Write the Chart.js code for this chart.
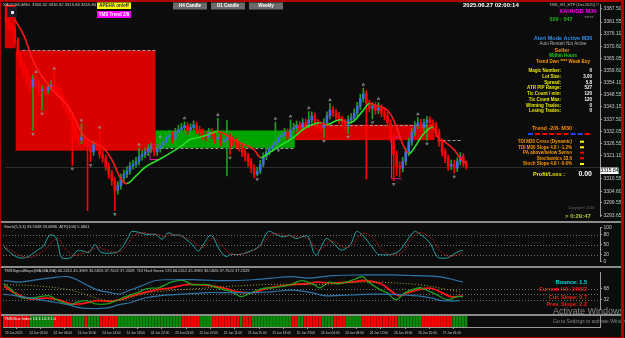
<!DOCTYPE html>
<html>
<head>
<meta charset="utf-8">
<script src="https://cdn.jsdelivr.net/npm/chart.js@4.4.1/dist/chart.umd.min.js"></script>
<style>
  html, body { margin: 0; padding: 0; }
  body { width: 625px; height: 338px; background: #0c0c0c; position: relative; overflow: hidden; }
  canvas { position: absolute; left: 0; }
  .sep { position: absolute; left: 0; width: 622px; height: 2px; background: #8c8c8c; }
  #frame { position: absolute; left: 0; top: 0; width: 620px; height: 335px; border: solid #b00000; border-width: 2px 3px 1px 1px; pointer-events: none; }
  .wm { position: absolute; color: rgba(150,150,150,0.9); font-family: "Liberation Sans", Arial, sans-serif; white-space: nowrap; }
</style>
</head>
<body>
<canvas id="main" width="625" height="221" style="top:0"></canvas>
<div class="sep" style="top:221px"></div>
<canvas id="stoch" width="625" height="43" style="top:223px"></canvas>
<div class="sep" style="top:266px"></div>
<canvas id="tdi" width="625" height="46" style="top:268px"></canvas>
<div class="sep" style="top:314px"></div>
<canvas id="hist" width="625" height="21" style="top:316px"></canvas>
<div class="wm" style="left:553px;top:306px;font-size:9px">Activate Windows</div>
<div class="wm" style="left:553px;top:318px;font-size:5px">Go to Settings to activate Windows.</div>
<div id="frame"></div>
<script>
// ---- price data (XAUUSD M30) ----
const firstOpen = 3384.0;
const closes = [
  3381.9, 3379.7, 3378.4, 3373.2, 3366.6, 3362.2, 3359.1, 3355.6, 3352.1, 3355.6,
  3353.4, 3350.4, 3351.2, 3350.4, 3352.1, 3353.0, 3351.2, 3350.4, 3347.7, 3344.7,
  3341.6, 3339.0, 3333.7, 3329.3, 3328.0, 3329.3, 3327.1, 3324.9, 3322.7, 3325.8,
  3324.9, 3321.4, 3319.7, 3316.2, 3312.6, 3309.6, 3305.2, 3307.4, 3310.9, 3312.6,
  3314.0, 3316.2, 3317.0, 3318.3, 3320.5, 3321.4, 3322.7, 3324.1, 3324.9, 3322.7,
  3324.1, 3325.8, 3327.1, 3329.3, 3330.2, 3328.4, 3331.5, 3332.8, 3333.7, 3334.6,
  3332.4, 3333.7, 3335.0, 3332.8, 3331.5, 3330.2, 3329.3, 3331.5, 3330.2, 3328.4,
  3329.3, 3327.1, 3328.0, 3329.3, 3328.0, 3327.1, 3325.8, 3324.9, 3322.7, 3320.5,
  3318.3, 3315.3, 3312.6, 3314.0, 3317.0, 3320.5, 3322.7, 3324.1, 3325.8, 3327.1,
  3329.3, 3330.2, 3331.5, 3329.3, 3332.8, 3333.7, 3334.6, 3333.7, 3335.9, 3335.0,
  3337.2, 3339.0, 3335.9, 3334.6, 3333.7, 3335.9, 3339.0, 3341.6, 3340.3, 3339.0,
  3337.2, 3335.9, 3334.6, 3337.2, 3338.1, 3340.3, 3343.3, 3346.9, 3349.0, 3344.7,
  3342.5, 3343.3, 3341.6, 3342.5, 3340.3, 3339.0, 3335.9, 3329.3, 3321.4, 3316.2,
  3315.3, 3318.3, 3322.7, 3327.1, 3331.5, 3334.6, 3335.9, 3333.7, 3335.9, 3337.2,
  3335.9, 3334.6, 3331.5, 3327.1, 3322.7, 3319.7, 3316.2, 3317.0, 3315.3, 3318.3,
  3320.5, 3317.5, 3315.8
];
const highs = [
  3387.0, 3383.0, 3381.0, 3379.5, 3374.5, 3368.0, 3363.5, 3360.8, 3357.0, 3357.5,
  3357.2, 3354.8, 3352.8, 3352.6, 3353.8, 3354.9, 3359.0, 3352.9, 3351.8, 3349.0,
  3346.2, 3343.0, 3340.2, 3335.2, 3331.0, 3335.5, 3330.8, 3328.6, 3326.4, 3327.3,
  3327.4, 3332.2, 3323.0, 3321.2, 3317.8, 3314.2, 3311.0, 3309.2, 3312.6, 3314.4,
  3316.0, 3318.0, 3319.0, 3320.2, 3324.5, 3323.2, 3324.6, 3326.0, 3326.8, 3326.5,
  3325.9, 3328.0, 3329.0, 3331.2, 3332.2, 3331.8, 3333.4, 3334.8, 3335.6, 3336.3,
  3336.0, 3335.4, 3336.8, 3336.2, 3334.4, 3333.0, 3332.0, 3333.4, 3333.2, 3331.8,
  3338.0, 3330.9, 3329.8, 3337.0, 3331.0, 3329.6, 3328.7, 3327.5, 3326.3, 3324.2,
  3322.0, 3319.8, 3316.9, 3315.8, 3318.8, 3322.2, 3324.5, 3326.0, 3327.6, 3336.2,
  3331.0, 3332.0, 3333.4, 3333.0, 3337.2, 3335.6, 3336.6, 3336.4, 3337.8, 3337.6,
  3341.0, 3340.8, 3340.4, 3337.4, 3336.2, 3337.8, 3340.9, 3344.6, 3343.2, 3342.0,
  3340.6, 3338.8, 3337.4, 3339.0, 3340.0, 3342.2, 3345.2, 3348.8, 3351.6, 3350.4,
  3346.2, 3345.0, 3345.0, 3345.2, 3344.0, 3342.0, 3340.6, 3337.2, 3330.8, 3323.0,
  3318.2, 3320.2, 3324.4, 3328.9, 3333.3, 3336.4, 3338.2, 3337.4, 3337.6, 3338.8,
  3338.6, 3337.2, 3336.0, 3333.0, 3328.6, 3324.2, 3321.2, 3319.0, 3318.8, 3320.0,
  3322.2, 3321.8, 3318.6
];
const lows = [
  3380.5, 3378.0, 3376.5, 3371.5, 3364.8, 3360.5, 3357.0, 3353.5, 3349.8, 3332.4,
  3351.0, 3348.6, 3341.5, 3348.9, 3349.2, 3350.8, 3349.8, 3348.5, 3346.0, 3343.0,
  3339.8, 3337.3, 3316.5, 3327.5, 3326.2, 3326.4, 3325.6, 3296.0, 3318.2, 3321.1,
  3323.2, 3319.8, 3318.0, 3314.4, 3310.8, 3307.6, 3296.0, 3303.5, 3305.8, 3309.2,
  3311.0, 3312.4, 3314.8, 3315.6, 3316.8, 3318.9, 3320.0, 3321.0, 3322.4, 3320.8,
  3321.1, 3322.6, 3324.3, 3325.8, 3327.8, 3326.7, 3327.0, 3330.0, 3331.2, 3332.1,
  3330.6, 3330.8, 3332.2, 3331.0, 3329.8, 3328.4, 3327.6, 3327.9, 3328.6, 3326.6,
  3327.0, 3325.5, 3325.8, 3311.8, 3321.5, 3325.4, 3324.0, 3323.0, 3320.6, 3318.6,
  3316.2, 3313.2, 3311.0, 3311.8, 3312.8, 3315.8, 3319.2, 3321.2, 3322.8, 3324.4,
  3325.0, 3327.8, 3328.8, 3327.6, 3327.9, 3331.0, 3332.0, 3332.0, 3332.4, 3333.4,
  3333.6, 3335.6, 3334.2, 3332.8, 3331.8, 3329.3, 3334.6, 3337.6, 3338.6, 3337.2,
  3335.4, 3334.2, 3332.8, 3331.1, 3335.6, 3336.6, 3338.8, 3341.8, 3345.2, 3310.4,
  3340.8, 3337.6, 3339.8, 3340.0, 3338.6, 3337.2, 3334.0, 3327.2, 3309.6, 3312.0,
  3311.4, 3313.6, 3316.8, 3321.0, 3325.6, 3330.0, 3333.2, 3332.0, 3332.2, 3328.0,
  3334.2, 3332.8, 3329.6, 3325.2, 3320.8, 3317.8, 3314.4, 3314.6, 3313.0, 3313.8,
  3316.8, 3316.0, 3314.8
];
const currentPrice = 3315.84;

// moving average line [bar, price]
const maLine = [
  [3, 3382.8], [6, 3375.4], [8, 3367.9], [10, 3361.3], [13, 3355.2], [16, 3349.9], [19, 3346.0],
  [21, 3342.5], [23, 3337.2], [25, 3331.5], [27, 3328.4], [30, 3326.2], [32, 3324.9], [35, 3319.2],
  [38, 3310.5], [40, 3308.3], [43, 3311.8], [46, 3315.7], [50, 3318.8], [54, 3321.9], [58, 3325.4],
  [61, 3328.4], [64, 3329.3], [67, 3330.6], [70, 3331.9], [73, 3330.2], [76, 3327.6], [79, 3325.8],
  [82, 3323.6], [84, 3320.1], [86, 3321.4], [89, 3324.1], [92, 3326.7], [95, 3329.3], [98, 3332.8],
  [101, 3335.0], [104, 3335.9], [106, 3335.0], [109, 3336.8], [111, 3337.2], [113, 3335.9],
  [115, 3336.8], [118, 3341.6], [120, 3344.7], [122, 3343.8], [125, 3342.5], [127, 3339.8],
  [129, 3333.7], [131, 3326.2], [133, 3321.9], [135, 3324.9], [137, 3329.3], [139, 3332.4],
  [141, 3333.7], [143, 3328.4], [145, 3327.1], [148, 3323.6], [150, 3319.7], [152, 3317.5]
];
// fractal arrows [bar, price]
const fractalUp = [
  [10, 3359.0], [16, 3360.5], [25, 3337.0], [31, 3333.8], [44, 3326.0], [51, 3329.5], [59, 3338.0],
  [70, 3339.5], [89, 3337.8], [94, 3338.8], [100, 3342.6], [107, 3346.2], [118, 3353.2],
  [123, 3346.8], [136, 3339.8]
];
const fractalDown = [
  [9, 3330.8], [12, 3340.0], [22, 3315.0], [28, 3316.6], [36, 3294.4], [74, 3320.0], [83, 3310.2],
  [90, 3323.4], [105, 3327.7], [113, 3329.5], [121, 3336.0], [128, 3308.0], [139, 3326.4], [148, 3311.4]
];
// supply / demand zones [fromBar, toBar, top, bottom, kind]
const zones = [
  [-0.6, 3.3, 3389.4, 3369.7, 'sell'],
  [3.3, 49.4, 3368.8, 3323.2, 'sell'],
  [49.4, 95.4, 3332.4, 3324.5, 'buy'],
  [95.4, 141.5, 3335.0, 3328.0, 'sell']
];
// dashed zone edges [fromBar, toBar, price]
const zoneEdges = [
  [5.5, 49.4, 3368.8], [49.4, 95.4, 3324.5], [95.4, 141.5, 3335.0], [142.5, 150.7, 3328.0]
];
// magenta brackets [fromBar, toBar, top, bottom]
const brackets = [
  [47.6, 50.6, 3325.8, 3319.2],
  [127.3, 130.6, 3329.3, 3310.5]
];
const priceTicks = [3387.50, 3381.55, 3376.10, 3370.60, 3365.05, 3359.60, 3354.10, 3348.55,
  3343.15, 3337.50, 3332.05, 3326.55, 3321.10, 3310.55, 3304.60, 3299.55, 3293.65];

// ---- stochastic [bar, value] ----
const stochMain = [
  [0, 43], [3, 20], [5, 11], [7, 11], [9, 20], [11, 34], [13, 45], [15, 78], [17, 73], [18, 43],
  [19, 11], [22, 11], [24, 31], [26, 31], [28, 27], [30, 50], [32, 27], [37, 27], [39, 43], [41, 73],
  [42, 89], [45, 85], [47, 80], [50, 80], [52, 66], [54, 85], [56, 78], [58, 78], [62, 50], [64, 31],
  [68, 78], [71, 34], [73, 15], [75, 22], [77, 20], [80, 27], [84, 45], [87, 89], [90, 78], [92, 73],
  [94, 78], [96, 68], [98, 73], [100, 75], [102, 25], [103, 20], [106, 68], [108, 57], [111, 34],
  [114, 50], [116, 89], [118, 78], [121, 45], [123, 22], [125, 20], [127, 20], [130, 31], [135, 89],
  [137, 80], [140, 57], [142, 22], [143, 11], [146, 11], [148, 22], [150, 31], [151, 33]
];
const stochSignal = [
  [0, 45], [3, 30], [5, 18], [8, 12], [10, 15], [12, 25], [14, 38], [16, 60], [18, 68], [20, 40],
  [23, 18], [25, 22], [27, 28], [29, 35], [31, 42], [33, 35], [36, 28], [39, 33], [41, 55], [43, 78],
  [46, 86], [48, 82], [51, 80], [53, 74], [55, 80], [57, 78], [60, 70], [63, 55], [65, 40], [67, 55],
  [69, 70], [72, 45], [74, 25], [76, 20], [78, 22], [81, 28], [85, 50], [88, 80], [91, 82], [93, 76],
  [95, 76], [97, 72], [99, 72], [101, 60], [103, 35], [105, 40], [107, 60], [109, 58], [112, 42],
  [115, 50], [117, 78], [119, 84], [122, 65], [124, 38], [126, 24], [128, 20], [131, 27], [133, 55],
  [136, 84], [138, 84], [141, 65], [143, 38], [145, 20], [147, 15], [149, 20], [151, 27]
];
const stochLevels = [80, 50, 20];
const stochTicks = [100, 80, 50, 20, 0];

// ---- TDI [bar, value] ----
const tdiUpper = [
  [0, 93.7], [5, 88.6], [9, 93.7], [15, 101.4], [21, 106.5], [24, 96.3], [27, 80.8], [31, 62.9],
  [35, 55.1], [38, 50.0], [40, 57.7], [45, 75.7], [50, 93.7], [55, 96.3], [62, 96.3], [70, 93.7],
  [75, 93.7], [82, 96.3], [88, 101.4], [95, 106.5], [100, 101.4], [108, 109.1], [119, 111.7],
  [127, 111.7], [136, 109.1], [143, 106.5], [148, 96.3], [151, 88.6]
];
const tdiLower = [
  [0, 50.0], [4, 44.9], [9, 37.2], [15, 26.9], [21, 16.6], [25, 6.3], [29, 3.7], [34, 6.3],
  [38, 16.6], [42, 24.3], [46, 37.2], [51, 44.9], [59, 50.0], [67, 55.1], [73, 55.1], [82, 55.1],
  [88, 57.7], [95, 62.9], [101, 55.1], [106, 44.9], [114, 47.4], [124, 50.0], [136, 44.9],
  [141, 37.2], [144, 29.4], [150, 29.4]
];
const tdiMid = [
  [0, 80.8], [12, 75.7], [22, 62.9], [35, 29.4], [48, 55.1], [64, 68.0], [86, 80.8], [104, 80.8],
  [119, 88.6], [136, 80.8], [150, 57.7]
];
const tdiGreen = [
  [0, 83.4], [2, 68.0], [5, 42.3], [8, 37.2], [12, 42.3], [15, 44.9], [18, 29.4], [22, 16.6],
  [24, 24.3], [27, 29.4], [30, 19.2], [34, 19.2], [37, 29.4], [40, 42.3], [44, 55.1], [47, 68.0],
  [51, 70.6], [55, 88.6], [59, 93.7], [62, 80.8], [67, 80.8], [71, 68.0], [75, 57.7], [78, 42.3],
  [82, 57.7], [85, 68.0], [88, 70.6], [92, 75.7], [95, 83.4], [98, 93.7], [102, 80.8], [104, 70.6],
  [107, 88.6], [110, 83.4], [115, 96.3], [118, 106.5], [120, 88.6], [124, 62.9], [126, 55.1],
  [129, 32.0], [132, 55.1], [137, 70.6], [139, 62.9], [142, 50.0], [146, 32.0], [149, 42.3], [151, 42.3]
];
const tdiRed = [
  [0, 75.7], [2, 62.9], [6, 42.3], [9, 34.6], [14, 37.2], [18, 32.0], [22, 19.2], [25, 19.2],
  [28, 24.3], [31, 29.4], [35, 26.9], [39, 34.6], [42, 44.9], [47, 57.7], [51, 65.4], [55, 70.6],
  [60, 80.8], [64, 80.8], [69, 75.7], [73, 68.0], [77, 57.7], [82, 55.1], [86, 68.0], [91, 75.7],
  [95, 80.8], [100, 83.4], [103, 88.6], [108, 86.0], [114, 88.6], [119, 93.7], [124, 83.4],
  [127, 62.9], [130, 44.9], [133, 55.1], [138, 68.0], [141, 68.0], [144, 55.1], [147, 42.3],
  [149, 42.3], [151, 44.9]
];
const tdiLevels = [68, 50, 32];
const tdiTicks = [68, 32];

// ---- histogram runs [bars, colour] ----
const histRuns = [
  [9, 'r'], [8, 'g'], [6, 'r'], [4, 'g'], [1, 'r'], [4, 'g'], [6, 'r'], [21, 'g'], [6, 'r'], [4, 'g'],
  [9, 'r'], [1, 'g'], [3, 'r'], [13, 'g'], [2, 'r'], [2, 'g'], [6, 'r'], [4, 'g'], [4, 'r'], [5, 'g'],
  [12, 'r'], [8, 'g'], [10, 'r'], [5, 'g']
];

// ---- time axis ----
const xTickBars = [0, 8, 16, 24, 32, 40, 48, 56, 64, 72, 80, 88, 96, 104, 112, 120, 128, 136, 144];
const xTickLabels = ['23 Jun 2025', '24 Jun 02:00', '24 Jun 06:00', '24 Jun 10:00', '24 Jun 14:00',
  '24 Jun 18:00', '24 Jun 22:00', '25 Jun 03:00', '25 Jun 07:00', '25 Jun 11:00', '25 Jun 15:00',
  '25 Jun 19:00', '25 Jun 23:00', '26 Jun 04:00', '26 Jun 08:00', '26 Jun 12:00', '26 Jun 16:00',
  '26 Jun 20:00', '27 Jun 01:00'];

// ================= drawing =================
const FONT = '"Liberation Sans", Arial, sans-serif';
const F = (w, s) => w + ' ' + s + 'px ' + FONT;
const X_MIN = -0.3, X_MAX = 196.1;
const opens = closes.map((c, i) => i === 0 ? firstOpen : closes[i - 1]);
const isBull = closes.map((c, i) => c >= opens[i]);
const pts = arr => arr.map(p => ({ x: p[0], y: p[1] }));

function xAxis(show) {
  return { type: 'linear', min: X_MIN, max: X_MAX, offset: false, display: show };
}
function rightAxis(min, max, ticks, fmt) {
  return {
    position: 'right', min: min, max: max,
    afterBuildTicks: s => { s.ticks = ticks.map(v => ({ value: v })); },
    afterFit: s => { s.width = 25; },
    ticks: { color: '#c8c8c8', font: { size: 5, family: FONT }, padding: 1.5, autoSkip: false, callback: fmt },
    grid: { display: true, drawOnChartArea: false, drawTicks: true, tickLength: 2, color: '#9a9a9a' },
    border: { display: true, color: '#9a9a9a' }
  };
}
const baseOpts = {
  responsive: false, maintainAspectRatio: false, animation: false, devicePixelRatio: 1, events: [],
  plugins: { legend: { display: false }, tooltip: { enabled: false } }
};

// text overlay drawn after the chart
function overlay(rects, items) {
  return {
    id: 'overlay',
    afterDraw(chart) {
      const ctx = chart.ctx;
      ctx.save();
      rects.forEach(r => { ctx.fillStyle = r[4]; ctx.fillRect(r[0], r[1], r[2], r[3]); });
      ctx.textBaseline = 'middle';
      items.forEach(t => {
        ctx.font = t[4]; ctx.fillStyle = t[3]; ctx.textAlign = t[5] || 'left';
        ctx.fillText(t[0], t[1], t[2]);
      });
      ctx.restore();
    }
  };
}
// dotted level lines in indicator windows
function levels(values) {
  return {
    id: 'levels',
    beforeDatasetsDraw(chart) {
      const { ctx, chartArea: a, scales } = chart;
      ctx.save();
      ctx.strokeStyle = '#6e6e6e'; ctx.lineWidth = 1; ctx.setLineDash([1, 2]);
      values.forEach(v => {
        const py = Math.round(scales.y.getPixelForValue(v)) + 0.5;
        ctx.beginPath(); ctx.moveTo(a.left, py); ctx.lineTo(a.right, py); ctx.stroke();
      });
      ctx.restore();
    }
  };
}
// time labels, narrowed like the terminal font, placed at the x scale ticks
const timeLabels = {
  id: 'timeLabels',
  afterDraw(chart) {
    const { ctx, chartArea: a, scales: { x } } = chart;
    ctx.save();
    ctx.font = F('normal', 4.3); ctx.fillStyle = '#c8c8c8';
    ctx.textAlign = 'left'; ctx.textBaseline = 'middle';
    xTickBars.forEach((b, i) => {
      const px = x.getPixelForValue(b) + 1;
      ctx.save(); ctx.translate(px, a.bottom + 5.5); ctx.scale(0.74, 1);
      ctx.fillText(xTickLabels[i], 0, 0);
      ctx.restore();
    });
    ctx.restore();
  }
};
// zones, price line, brackets behind the candles
const zonePlugin = {
  id: 'zones',
  beforeDatasetsDraw(chart) {
    const { ctx, chartArea: a, scales: { x, y } } = chart;
    ctx.save();
    ctx.beginPath(); ctx.rect(a.left, a.top, a.right - a.left, a.bottom - a.top); ctx.clip();
    zones.forEach(z => {
      const x0 = x.getPixelForValue(z[0]), x1 = x.getPixelForValue(z[1]);
      const y0 = y.getPixelForValue(z[2]), y1 = y.getPixelForValue(z[3]);
      ctx.fillStyle = z[4] === 'sell' ? '#d90000' : '#00a400';
      ctx.fillRect(x0, y0, x1 - x0, y1 - y0);
    });
    const py = Math.round(y.getPixelForValue(currentPrice)) + 0.5;
    ctx.strokeStyle = '#2c2c2c'; ctx.lineWidth = 1;
    ctx.beginPath(); ctx.moveTo(a.left, py); ctx.lineTo(a.right, py); ctx.stroke();
    ctx.strokeStyle = '#a0a0a0'; ctx.setLineDash([3, 2]);
    zoneEdges.forEach(e => {
      const ey = Math.round(y.getPixelForValue(e[2])) + 0.5;
      ctx.beginPath(); ctx.moveTo(x.getPixelForValue(e[0]), ey); ctx.lineTo(x.getPixelForValue(e[1]), ey); ctx.stroke();
    });
    ctx.setLineDash([]); ctx.strokeStyle = '#e0209a';
    brackets.forEach(b => {
      const x0 = x.getPixelForValue(b[0]), x1 = x.getPixelForValue(b[1]);
      const y0 = y.getPixelForValue(b[2]), y1 = y.getPixelForValue(b[3]);
      ctx.beginPath(); ctx.moveTo(x1, y0); ctx.lineTo(x0, y0); ctx.lineTo(x0, y1); ctx.lineTo(x1, y1); ctx.stroke();
    });
    ctx.restore();
  }
};

// ---- main window texts ----
const statNames = ['Magic Number:', 'Lot Size:', 'Spread:', 'ATR PIP Range:', 'Tic Count / min:', 'Tic Count Max:', 'Winning Trades:', 'Losing Trades:'];
const statValues = ['0', '3.00', '5.8', '527', '120', '120', '0', '0'];
const statY = [70.7, 76.7, 82.3, 88, 94, 99.7, 105.3, 111];
const signalNames = ['TDI M30 Cross (Dynamic)', 'TDI M30 Slope 4.8 / -1.2%', 'PA above/below Senso', 'Stochastics 33.6', 'Stoch Slope 4.8 / -0.6%'];
const signalColors = ['#ffff00', '#ffff00', '#ff0000', '#ff0000', '#ffff00'];
const signalY = [141.7, 147.3, 152.7, 158.3, 164];
const trendColors = ['#2040ff', '#ff0000', '#ff0000', '#ff0000', '#ff0000', '#ff0000', '#2040ff', '#2040ff', '#ff0000'];

const mainRects = [
  [7, 7, 10, 10, '#1c1c28'], [11, 11, 3, 3, '#e6e6e6'],
  [97, 2.5, 34, 6.5, '#ffff00'], [97, 11, 34, 7, '#ff00ff'],
  [173, 2.5, 34, 7, '#6a6a6a'], [211, 2.5, 34, 7, '#6a6a6a'], [249, 2.5, 34, 7, '#6a6a6a'],
  [600.5, 167.5, 18, 6.5, '#ffffff']
];
trendColors.forEach((c, i) => mainRects.push([528 + i * 7.1, 133, 5, 2, c]));
signalColors.forEach((c, i) => mainRects.push([580, signalY[i] - 1, 4, 2, c]));

const mainTexts = [
  ['XAUUSD,M30  3316.32 3316.32 3315.84 3315.84', 3, 4.5, '#d0d0d0', F('normal', 4.2)],
  ['APEHA on/off', 114, 6, '#101060', F('bold', 4.5), 'center'],
  ['TMS Trend 2/8', 114, 14.5, '#ffffff', F('bold', 4.5), 'center'],
  ['H4 Candle', 190, 6, '#ffffff', F('bold', 4.5), 'center'],
  ['D1 Candle', 228, 6, '#ffffff', F('bold', 4.5), 'center'],
  ['Weekly', 266, 6, '#ffffff', F('bold', 4.5), 'center'],
  ['2025.06.27 02:00:14', 463, 5.5, '#ffffff', F('bold', 6)],
  ['TMS_VR_HTF (Dec2020) ©', 549, 4.5, '#bdbdbd', F('normal', 4)],
  ['XAUUSD M30', 578, 11, '#ff00ff', F('bold', 5.8), 'center'],
  ['029 : 047', 561, 19, '#22b422', F('bold', 5.5), 'center'],
  ['*****', 589, 19, '#8a8a8a', F('normal', 4.5), 'center'],
  ['Alert Mode Active M30', 563, 38.5, '#2f8ff0', F('bold', 5.5), 'center'],
  ['Auto Restart Not Active', 563, 44, '#b0b0b0', F('normal', 4.5), 'center'],
  ['Seller', 562, 50.5, '#ff8c00', F('bold', 5.5), 'center'],
  ['Within Hours', 563, 56, '#22cc22', F('bold', 4.5), 'center'],
  ['Trend Dwn **** Weak Buy', 563, 62, '#ff9900', F('bold', 4.5), 'center'],
  ['Trend -2/8- M30', 552, 128, '#ff8c00', F('bold', 5.5), 'center'],
  ['Profit/Loss :', 533, 174.5, '#e8e800', F('bold', 5.5)],
  ['0.00', 592, 174.5, '#ffffff', F('bold', 7), 'right'],
  ['Copyright© 2020', 568, 208.5, '#6a6a6a', F('normal', 3.5)],
  ['> 0:29:47', 565, 216.5, '#a8c832', F('bold', 6)],
  ['3315.84', 609.5, 170.9, '#000000', F('normal', 5), 'center']
];
statNames.forEach((s, i) => {
  mainTexts.push([s, 561, statY[i], '#e8e800', F('bold', 4.5), 'right']);
  mainTexts.push([statValues[i], 592, statY[i], '#ffffff', F('bold', 4.5), 'right']);
});
signalNames.forEach((s, i) => mainTexts.push([s, 572, signalY[i], '#ff9900', F('bold', 4.5), 'right']));

// ---- main chart ----
new Chart(document.getElementById('main'), {
  type: 'bar',
  data: {
    datasets: [
      {
        type: 'line', data: pts(fractalUp), showLine: false, order: 0,
        pointStyle: 'triangle', pointRadius: 1.4, pointBorderWidth: 0.8,
        pointBorderColor: '#9a9a9a', pointBackgroundColor: 'rgba(0,0,0,0)'
      },
      {
        type: 'line', data: pts(fractalDown), showLine: false, order: 0,
        pointStyle: 'triangle', pointRotation: 180, pointRadius: 1.4, pointBorderWidth: 0.8,
        pointBorderColor: '#9a9a9a', pointBackgroundColor: 'rgba(0,0,0,0)'
      },
      {
        type: 'line', data: pts(maLine), order: 1, pointRadius: 0, borderWidth: 1.6, tension: 0.4,
        borderColor: '#ff1a1a',
        segment: { borderColor: c => c.p1.parsed.y >= c.p0.parsed.y ? '#26e026' : '#ff1a1a' }
      },
      {
        data: opens.map((o, i) => ({ x: i, y: [o, closes[i]] })), order: 2, grouped: false,
        barThickness: 2, minBarLength: 1,
        backgroundColor: isBull.map(b => b ? '#3c6fdc' : '#ff0000')
      },
      {
        data: highs.map((h, i) => ({ x: i, y: [lows[i], h] })), order: 3, grouped: false,
        barThickness: 1,
        backgroundColor: isBull.map(b => b ? '#1f9e1f' : '#ff0000')
      }
    ]
  },
  options: Object.assign({}, baseOpts, {
    layout: { padding: { left: 3, top: 3, right: 0, bottom: 0 } },
    scales: {
      x: xAxis(false),
      y: rightAxis(3293.5, 3389.4, priceTicks, v => v.toFixed(2))
    }
  }),
  plugins: [zonePlugin, overlay(mainRects, mainTexts)]
});

// ---- stochastic window ----
new Chart(document.getElementById('stoch'), {
  type: 'line',
  data: {
    datasets: [
      { data: pts(stochSignal), borderColor: '#c41a1a', borderWidth: 1, borderDash: [1.5, 1.5], pointRadius: 0, tension: 0.3 },
      { data: pts(stochMain), borderColor: '#22a3a3', borderWidth: 1, pointRadius: 0, tension: 0.3 }
    ]
  },
  options: Object.assign({}, baseOpts, {
    layout: { padding: { left: 3, top: 0, right: 0, bottom: 0 } },
    scales: { x: xAxis(false), y: rightAxis(0, 100.8, stochTicks, v => String(v)) }
  }),
  plugins: [levels(stochLevels), overlay([], [
    ['Stoch(5,3,3) 33.5948 33.0886  ATR(100) 5.0841', 4, 3.5, '#d0d0d0', F('normal', 4)]
  ])]
});

// ---- TDI window ----
new Chart(document.getElementById('tdi'), {
  type: 'line',
  data: {
    datasets: [
      { data: pts(tdiUpper), borderColor: '#2f74a8', borderWidth: 1.2, pointRadius: 0, tension: 0.35 },
      { data: pts(tdiLower), borderColor: '#2f74a8', borderWidth: 1.2, pointRadius: 0, tension: 0.35 },
      { data: pts(tdiMid), borderColor: '#b0a020', borderWidth: 1, borderDash: [1, 2], pointRadius: 0, tension: 0.35 },
      { data: pts(tdiGreen), borderColor: '#1e9e1e', borderWidth: 1.3, pointRadius: 0, tension: 0.3 },
      { data: pts(tdiRed), borderColor: '#ff1414', borderWidth: 1.8, pointRadius: 0, tension: 0.35 }
    ]
  },
  options: Object.assign({}, baseOpts, {
    layout: { padding: { left: 3, top: 0, right: 0, bottom: 0 } },
    scales: { x: xAxis(false), y: rightAxis(1.1, 119.4, tdiTicks, v => String(v)) }
  }),
  plugins: [levels(tdiLevels), overlay([], [
    ['TMSSignalSlope(MA,MA,MA) 66.2412 45.3969 36.5826 37.7622 37.2328  TDI Red Green #25 66.2412 45.3969 36.5826 37.7622 37.2328', 4, 3, '#d0d0d0', F('normal', 4)],
    ['Bounce: 1.5', 587, 14, '#00e0e8', F('bold', 5.5), 'right'],
    ['Current HA: 24/0/2', 587, 21, '#ff1a1a', F('bold', 5.5), 'right'],
    ['Cur. Slope: 0.7', 587, 29, '#ff1a1a', F('bold', 5.5), 'right'],
    ['Prev. Slope: 2.2', 587, 36, '#ff1a1a', F('bold', 5.5), 'right']
  ])]
});

// ---- histogram window with time axis ----
const histColors = histRuns.flatMap(r => Array(r[0]).fill(r[1]));
new Chart(document.getElementById('hist'), {
  type: 'bar',
  data: {
    datasets: [{
      data: histColors.map((c, i) => ({ x: i, y: 1 })),
      backgroundColor: histColors.map(c => c === 'r' ? '#ff0000' : '#0a8a0a'),
      barPercentage: 0.93, categoryPercentage: 1
    }]
  },
  options: Object.assign({}, baseOpts, {
    layout: { padding: { left: 3, top: 0, right: 0, bottom: 0 } },
    scales: {
      x: {
        type: 'linear', min: X_MIN, max: X_MAX, offset: false, position: 'bottom',
        afterBuildTicks: s => { s.ticks = xTickBars.map(v => ({ value: v })); },
        afterFit: s => { s.height = 10; },
        ticks: { display: false },
        grid: { display: true, drawOnChartArea: false, drawTicks: true, tickLength: 2, color: '#9a9a9a' },
        border: { display: true, color: '#9a9a9a' }
      },
      y: rightAxis(0, 1, [], () => '')
    }
  }),
  plugins: [timeLabels, overlay([], [
    ['TMSGlas Index 13.3 13.3 1.0', 4, 3, '#ffffff', F('normal', 4)]
  ])]
});
</script>
</body>
</html>
